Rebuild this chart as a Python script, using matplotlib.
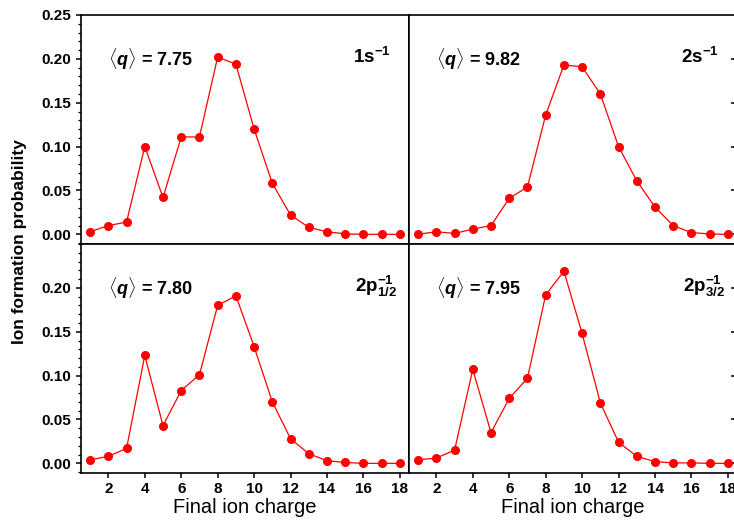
import numpy as np
import matplotlib
matplotlib.use("Agg")
import matplotlib.pyplot as plt
from matplotlib.ticker import MultipleLocator

plt.rcParams['font.family'] = ['Liberation Sans', 'DejaVu Sans']
plt.rcParams['mathtext.fontset'] = 'custom'
plt.rcParams['mathtext.rm'] = 'Liberation Sans:bold'
plt.rcParams['mathtext.it'] = 'Liberation Sans:bold:italic'
plt.rcParams['mathtext.bf'] = 'Liberation Sans:bold'

charge = np.arange(1, 19)

p_1s = [0.003, 0.010, 0.014, 0.100, 0.042, 0.111, 0.111, 0.202, 0.194,
        0.120, 0.058, 0.022, 0.008, 0.003, 0.0005, 0.0, 0.0, 0.0]
p_2s = [0.0, 0.003, 0.001, 0.006, 0.010, 0.041, 0.054, 0.136, 0.193,
        0.191, 0.160, 0.100, 0.061, 0.031, 0.010, 0.002, 0.0005, 0.0]
p_2p12 = [0.004, 0.008, 0.017, 0.123, 0.043, 0.083, 0.101, 0.180, 0.191,
          0.133, 0.070, 0.028, 0.011, 0.003, 0.001, 0.0, 0.0, 0.0]
p_2p32 = [0.004, 0.006, 0.015, 0.107, 0.035, 0.074, 0.097, 0.192, 0.219,
          0.148, 0.069, 0.024, 0.008, 0.002, 0.0005, 0.0005, 0.0, 0.0]

series = [p_1s, p_2s, p_2p12, p_2p32]
mean_q = ["7.75", "9.82", "7.80", "7.95"]
labels = [r"$1\mathrm{s}^{-1}$", r"$2\mathrm{s}^{-1}$",
          r"$2\mathrm{p}_{1/2}^{-1}$", r"$2\mathrm{p}_{3/2}^{-1}$"]

fig, axes = plt.subplots(2, 2, figsize=(7.34, 5.2), dpi=100)
fig.subplots_adjust(left=81/734, right=737/734, top=1-15/520,
                    bottom=1-473/520, wspace=0, hspace=0)

for i, ax in enumerate(axes.flat):
    row, col = divmod(i, 2)
    ax.plot(charge, series[i], '-o', color='#ff0000', lw=0.9, ms=5.5)
    ax.set_xlim(0.5, 18.5)
    ax.set_ylim(-0.011, 0.25)
    for s in ax.spines.values():
        s.set_linewidth(1.2)
    ax.xaxis.set_major_locator(MultipleLocator(2))
    ax.yaxis.set_major_locator(MultipleLocator(0.05))
    ax.tick_params(axis='x', direction='out', length=3.6, width=1.1,
                   labelsize=11, pad=3)
    if row == 0:
        ax.tick_params(axis='x', labelbottom=False)
    if col == 0:
        ax.yaxis.set_minor_locator(MultipleLocator(0.01))
        ax.tick_params(axis='y', which='major', direction='out', length=3.6,
                       width=1.1, labelsize=11)
        ax.tick_params(axis='y', which='minor', direction='out', length=2,
                       width=0.9)
        if row == 0:
            ax.set_yticks([0, 0.05, 0.10, 0.15, 0.20, 0.25])
        else:
            ax.set_yticks([0, 0.05, 0.10, 0.15, 0.20])
        ax.set_yticklabels([f"{v:.2f}" for v in ax.get_yticks()],
                           fontweight='bold', fontsize=11)
    else:
        ax.set_yticks([0, 0.05, 0.10, 0.15, 0.20])
        ax.tick_params(axis='y', left=False, labelleft=False, right=True,
                       direction='in', length=4, width=1.1)
    if row == 1:
        ax.set_xticks(range(2, 19, 2))
        ax.set_xticklabels([str(v) for v in range(2, 19, 2)],
                           fontweight='bold', fontsize=11)
        ax.set_xlabel("Final ion charge", fontsize=14.5, labelpad=1)

    ax.text(0.082, 0.805, r"$\langle \mathit{q} \rangle$ = " + mean_q[i],
            transform=ax.transAxes, fontsize=13, fontweight='bold',
            ha='left', va='center')
    ax.text(0.945 if row == 0 else 0.962, 0.815, labels[i],
            transform=ax.transAxes, fontsize=13.5, ha='right', va='center')

fig.text(20/734, 1-242/520, "Ion formation probability", rotation=90,
         fontsize=12.5, fontweight='bold', ha='center', va='center')

fig.savefig("out.png", dpi=100)
